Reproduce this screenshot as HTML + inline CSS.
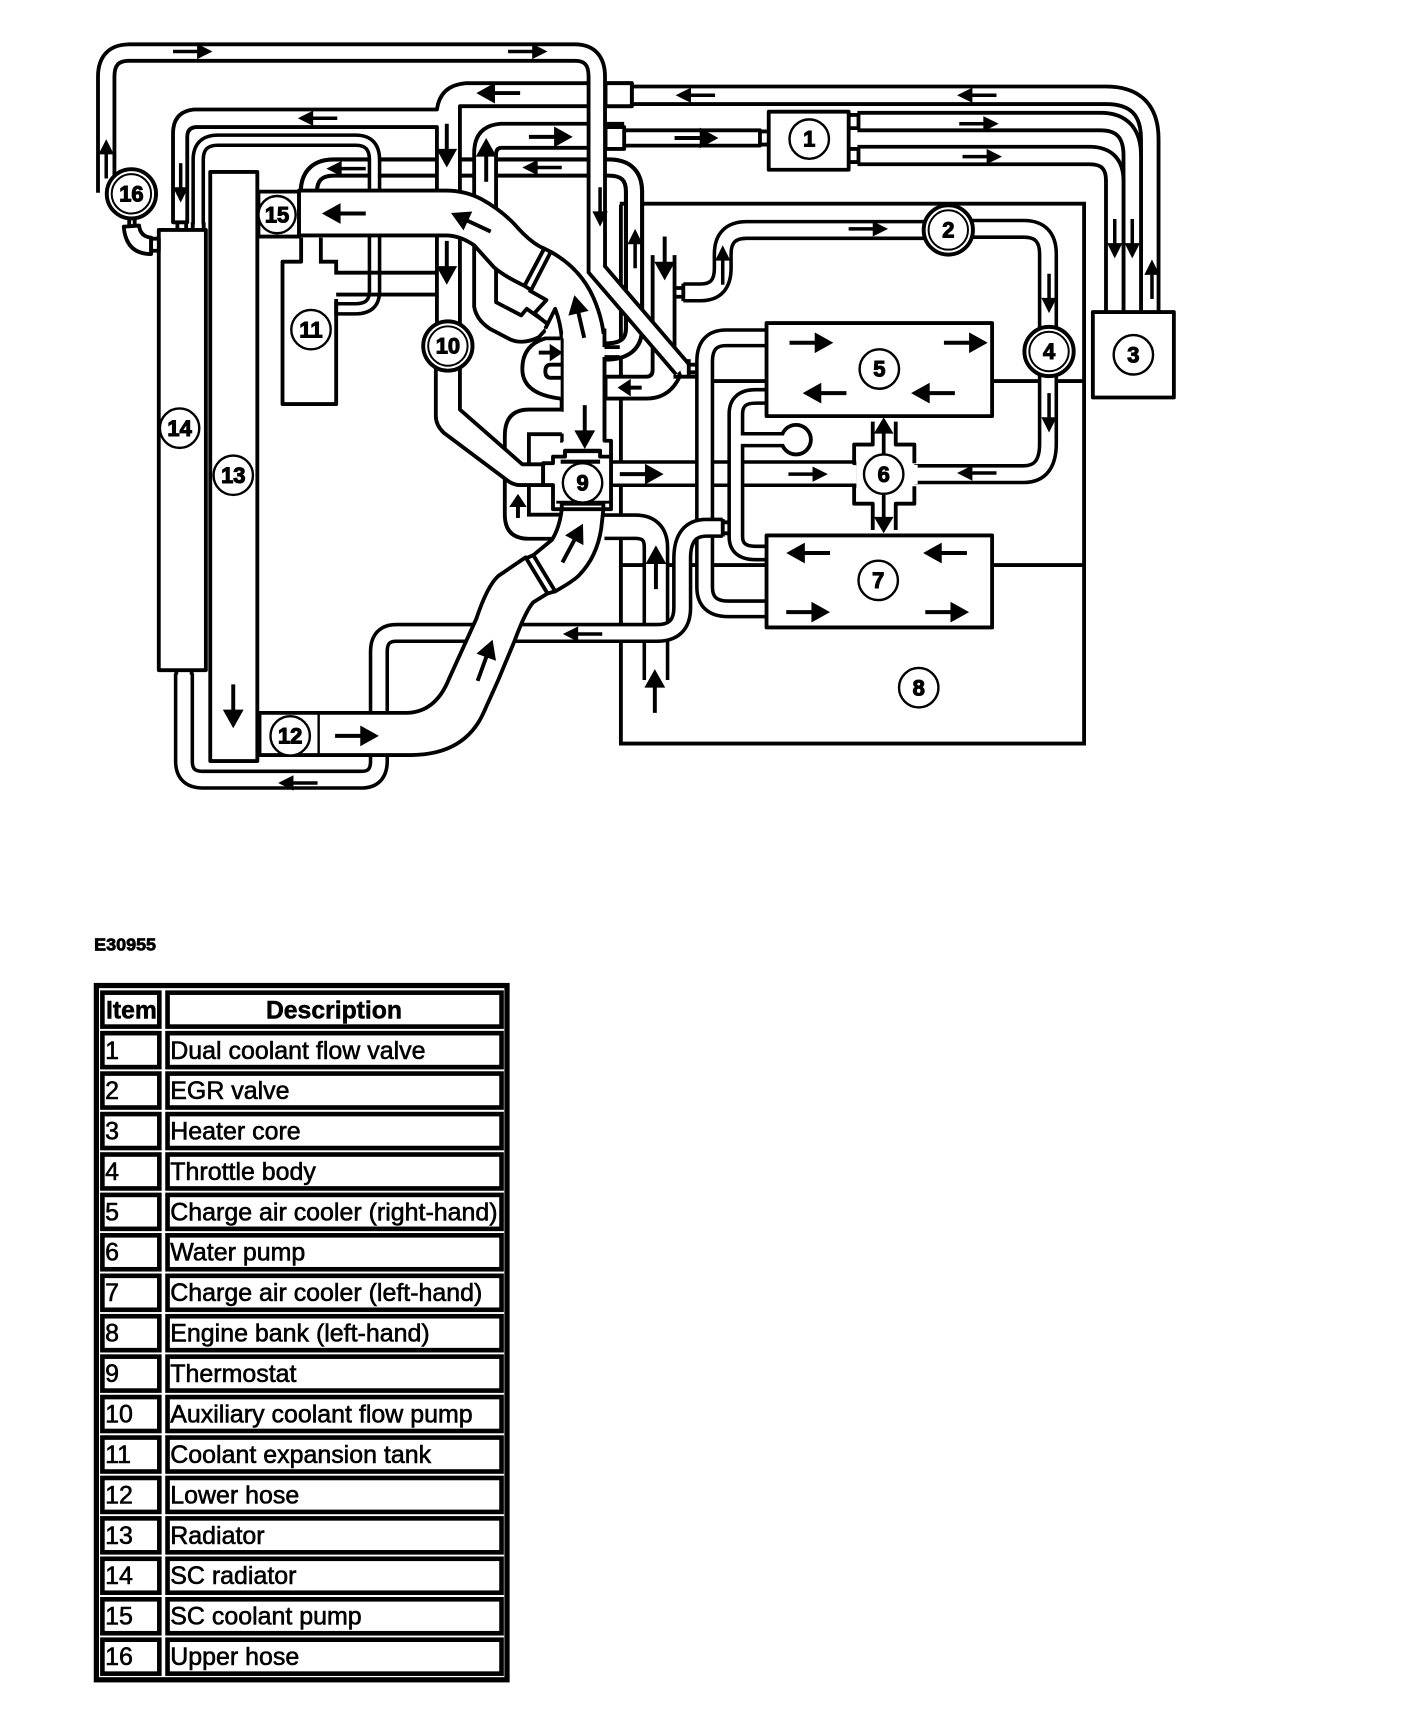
<!DOCTYPE html>
<html><head><meta charset="utf-8"><style>
html,body{margin:0;padding:0;background:#fff}
svg{display:block}
.l{fill:none;stroke:#000;stroke-width:3.5}
.f{fill:#fff;stroke:#000;stroke-width:3.5;stroke-linejoin:round}
.k{fill:none;stroke:#000}
.w{fill:none;stroke:#fff}
.c{fill:#fff;stroke:#000;stroke-width:2.2}
.n{font:bold 20px "Liberation Sans",sans-serif;text-anchor:middle;stroke:#000;stroke-width:1}
.t{font:22.8px "Liberation Sans",sans-serif;stroke:#000;stroke-width:.55}
.h{font:bold 22.6px "Liberation Sans",sans-serif;text-anchor:middle;stroke:#000;stroke-width:.5}
.r{fill:#fff;stroke:#000;stroke-width:4.2}
</style></head><body>
<svg xmlns="http://www.w3.org/2000/svg" width="1408" height="1718" viewBox="0 0 1285.8 1568.9">
<defs>
<g id="a"><path d="M-20,0H6" stroke="#000" stroke-width="3.6"/><polygon points="3,-9.5 3,9.5 20,0"/></g>
<g id="b"><path d="M-18,0H6" stroke="#000" stroke-width="3.2"/><polygon points="4,-7 4,7 18,0"/></g>
<g id="s"><path d="M-11,0H2" stroke="#000" stroke-width="3.6"/><polygon points="-1,-8 -1,8 11,0"/></g>
</defs>

<!-- engine bank -->
<path class="l" d="M566,186H990V679H567V187"/>
<path class="l" d="M906,348H990M651,348H700M906,516H990M566,516H700"/>

<!-- heater pipes -->
<path class="k" stroke-width="19.500" d="M577,87H1010Q1050,87 1050,127V287"/><path class="w" stroke-width="12.500" d="M577,87H1010Q1050,87 1050,127V287"/>
<path class="k" stroke-width="19.500" d="M783,111H1005Q1034,111 1034,142V287"/><path class="w" stroke-width="12.500" d="M783,111H1005Q1034,111 1034,142V287"/>
<path class="k" stroke-width="19.500" d="M783,142H995Q1018,142 1018,165V287"/><path class="w" stroke-width="12.500" d="M783,142H995Q1018,142 1018,165V287"/>
<rect class="f" x="775" y="105" width="9" height="12"/><rect class="f" x="775" y="136" width="9" height="12"/>
<rect class="f" x="693" y="120" width="10" height="12"/>
<path class="f" d="M570,119H694V133H570"/>

<!-- P7 mid horizontal -->
<path class="k" stroke-width="18.500" d="M282,176Q282,153 305,153H556Q579,153 579,175V300Q579,321 553,321"/>
<path class="w" stroke-width="11" d="M282,176Q282,153 305,153H556Q579,153 579,175V300Q579,321 553,321"/>

<!-- stub pipe with left arrow -->
<path class="f" d="M596,233V338Q596,344 590,344H553V364H590Q612,364 621,343L616,330V233"/>
<path class="f" d="M628,333H636M628,340H636M615,344H636"/>

<!-- EGR and throttle pipes -->
<path class="k" stroke-width="18.500" d="M624,267H640Q660,267 660,245V232Q660,210 682,210H850"/><path class="w" stroke-width="12" d="M624,267H640Q660,267 660,245V232Q660,210 682,210H850"/>
<path class="l" d="M616,263H625M616,271H625M624,259V275"/>
<path class="k" stroke-width="18.500" d="M880,209H935Q957,209 957,232V330"/><path class="w" stroke-width="12" d="M880,209H935Q957,209 957,232V330"/>
<path class="k" stroke-width="18.500" d="M957,330V405Q957,433 935,433H835"/><path class="w" stroke-width="12" d="M957,330V405Q957,433 935,433H833"/>

<!-- pipe thermostat to pump -->
<path class="k" stroke-width="24.500" d="M558,432.500H782"/><path class="w" stroke-width="18" d="M558,432.500H782"/>

<!-- P1 P2 -->
<path class="k" stroke-width="17.500" d="M699,308.500H663Q643.500,308.500 643.500,330V536Q643.500,556 665,556H699"/><path class="w" stroke-width="11" d="M699,308.500H663Q643.500,308.500 643.500,330V536Q643.500,556 665,556H699"/>
<path class="k" stroke-width="15.500" d="M699,362H690Q672,362 672,378V490Q672,505 690,505H699"/><path class="w" stroke-width="9" d="M699,362H690Q672,362 672,378V490Q672,505 690,505H699"/>
<circle class="f" cx="727" cy="401.500" r="13.500"/>
<path class="k" stroke-width="14" d="M678,401.500H716"/><path class="w" stroke-width="7.600" d="M672,401.500H722"/>

<!-- P4 -->
<path class="k" stroke-width="24.500" d="M552,481H580Q599,481 599,500V621"/><path class="w" stroke-width="18" d="M552,481H580Q599,481 599,500V622"/>

<!-- P3 -->
<path class="k" stroke-width="18.500" d="M660,482H645Q623,482 623,510V555Q623,578 600,578H362Q346,578 346,595V695Q346,712 330,712H185Q168,712 168,695V615"/>
<path class="w" stroke-width="12" d="M660,482H645Q623,482 623,510V555Q623,578 600,578H362Q346,578 346,595V695Q346,712 330,712H185Q168,712 168,695V615"/>
<path class="l" d="M660,474V490M660,477H666M660,487H666"/>

<!-- Pump -->
<path class="f" d="M782,423H780V406H797V385M818,385V406H835V423M835,444V460H818V484M797,484V460H780V444H782"/>
<rect x="782" y="424.500" width="56" height="17.500" fill="#fff"/>

<!-- B pipe -->
<path class="f" d="M420,300V97H577V76H425Q402,78 399,100H177Q158,102 158,122V203H171V125Q171,116 180,116H399V300"/>

<!-- SC thin pipe -->
<path class="k" stroke-width="12.500" d="M181,205V146Q181,128 199,128H325Q342,128 342,146V266Q342,282 325,282H306"/>
<path class="w" stroke-width="6" d="M181,205V146Q181,128 199,128H325Q342,128 342,146V266Q342,282 325,282H306"/>

<!-- tank 11 and lines -->
<path class="f" d="M275,217V239H258V369H307V275"/>
<path class="l" d="M293,217V239H307V249H399M307,269H399"/>
<path class="l" d="M307,273V288"/>

<!-- radiators -->
<rect class="f" x="192" y="157" width="43" height="538"/>
<rect class="f" x="145" y="210" width="43" height="402"/>
<path class="l" d="M162,203V210M170,203V210M176,203V210M186,203V210M161,612V616M175,612V616"/>

<!-- elbow near 16 -->
<path class="f" d="M113,207Q115,232 138,232V217Q128,216 127,206Z"/>
<rect class="f" x="138" y="218" width="7" height="11"/>
<path class="l" d="M118,198V207M123,198V207"/>

<!-- P5 -->
<path class="f" d="M570,113H457Q433,115 433,140V280Q435,292 447,300L466,310Q478,315 492,308L502,297L481,282L476,288L453,276V141Q453,135 458,135H570"/>
<rect class="f" x="553" y="116" width="17" height="20"/>
<rect class="f" x="553" y="76" width="24" height="21"/>
<path class="f" d="M483,265L499,274L488,286L500,296"/>

<!-- housing top -->
<path class="f" d="M503,230Q530,245 542,272Q552,295 552,317M552,326V402.500H558V417.600H548V411.600H516V417.600H505.500V402.500H513V396M513,376V309Q512,295 507,282L498,300"/>
<path d="M514,305L552,305L552,403H514Z" fill="#fff"/>
<path class="l" d="M552,300V317M552,326V403M513,309V376M513,396V403"/>
<path class="l" d="M552,317H566M552,326H566"/>

<!-- C loop -->
<path class="f" d="M512,309H498Q477,315 477,337Q477,360 512,364"/>
<path class="l" d="M513,333H503Q498,333 498,339Q498,345 503,345H513"/>

<!-- Bypass loop -->
<path class="f" d="M513,374H483Q461,374 461,398V470Q461,492 483,492H507"/>
<path class="l" d="M513,396.500H483V423M483,443V470H513"/>

<!-- pipe 10 diag -->
<path class="f" d="M398,330V380Q398,388 405,395L465,440Q470,443 475,443H496V424H477L420,374V330"/>

<!-- P4 housing lower -->
<path class="f" d="M513,465Q511,482 504,493L487,507L507,540Q525,530 530,524Q545,508 549,483L551,465Z"/>
<path class="f" d="M480,510L487,507L507,540L500,542Z"/>

<!-- thermostat -->
<path class="f" d="M505,417V423H496V443H505V465H513V460H551V465H558V443H558V422H558V417H548V412H516V417Z"/>
<rect x="560" y="424.500" width="10" height="16" fill="#fff"/>
<path d="M512,421.600H548" stroke="#000" stroke-width="3.800"/>
<path d="M508,458.600H558" stroke="#000" stroke-width="2.600"/>

<!-- lower hose -->
<path class="f" d="M237,651H372Q398,650 410,620L435,565Q445,535 455,526L480,509L500,542L487,550Q480,558 470,585L455,621L442,650Q425,689 376,689.500H237Z"/>
<path class="l" d="M291,650V690" style="stroke-width:2.200"/>

<!-- A pipe -->
<path class="k" stroke-width="18.500" d="M97,176V70Q97,48 118,48H525Q545,48 545,70V246L623,337"/>
<path class="w" stroke-width="11.500" d="M97,177V70Q97,48 118,48H525Q545,48 545,70V246L623,337"/>
<path class="l" d="M629,328V344"/>

<!-- upper hose -->
<path class="f" d="M273,174H407Q425,174 440,182Q458,192 471,206Q485,222 497,227L479,261Q460,252 451,244L433,224Q420,215 407,215H273Z"/>
<path class="f" d="M497,227L503,230L485,265L479,261Z"/>
<rect class="f" x="236" y="175" width="37" height="41"/>

<!-- boxes -->
<rect class="f" x="702" y="102" width="73" height="53"/>
<rect class="f" x="998" y="285" width="74" height="78"/>
<rect class="f" x="700" y="295" width="206" height="85"/>
<rect class="f" x="700" y="489" width="206" height="84"/>

<!-- pump shafts -->
<path d="M807,415V390M807,452V475" stroke="#000" stroke-width="3.400"/>

<!-- arrows -->
<g>
<use href="#b" transform="translate(176,47)"/>
<use href="#b" transform="translate(482,47)"/>
<use href="#b" transform="translate(97,145) rotate(-90)"/>
<use href="#b" transform="translate(165,167) rotate(90)"/>
<use href="#b" transform="translate(290,108) rotate(180)"/>
<use href="#a" transform="translate(455,85) rotate(180)"/>
<use href="#a" transform="translate(503,125)"/>
<use href="#a" transform="translate(636,126)"/>
<use href="#b" transform="translate(316,154) rotate(180)"/>
<use href="#b" transform="translate(495,153) rotate(180)"/>
<use href="#a" transform="translate(408,133) rotate(90)"/>
<use href="#a" transform="translate(408,240) rotate(90)"/>
<use href="#a" transform="translate(444,146) rotate(-90)"/>
<use href="#a" transform="translate(314,195) rotate(180)"/>
<use href="#a" transform="translate(430,203) rotate(205)"/>
<use href="#a" transform="translate(529,289) rotate(-103)"/>
<use href="#b" transform="translate(548,189) rotate(90)"/>
<use href="#b" transform="translate(580,227) rotate(-90)"/>
<use href="#a" transform="translate(607,236) rotate(90)"/>
<use href="#s" transform="translate(503,322)"/>
<use href="#s" transform="translate(575,354) rotate(180)"/>
<use href="#a" transform="translate(534,390) rotate(90)"/>
<use href="#a" transform="translate(586,433)"/>
<use href="#b" transform="translate(738,433)"/>
<use href="#s" transform="translate(473,462) rotate(-90)"/>
<use href="#a" transform="translate(523,496) rotate(-62)"/>
<use href="#a" transform="translate(443,603) rotate(-70)"/>
<use href="#a" transform="translate(599,518) rotate(-90)"/>
<use href="#a" transform="translate(598,631) rotate(-90)"/>
<use href="#b" transform="translate(532,579) rotate(180)"/>
<use href="#a" transform="translate(326,672)"/>
<use href="#a" transform="translate(213,645) rotate(90)"/>
<use href="#b" transform="translate(272,715) rotate(180)"/>
<use href="#a" transform="translate(738,505) rotate(180)"/>
<use href="#a" transform="translate(863,505) rotate(180)"/>
<use href="#a" transform="translate(738,559)"/>
<use href="#a" transform="translate(865,559)"/>
<use href="#a" transform="translate(741,313)"/>
<use href="#a" transform="translate(882,313)"/>
<use href="#a" transform="translate(753,359) rotate(180)"/>
<use href="#a" transform="translate(852,359) rotate(180)"/>
<use href="#b" transform="translate(793,209)"/>
<use href="#b" transform="translate(660,242) rotate(-90)"/>
<use href="#b" transform="translate(958,268) rotate(90)"/>
<use href="#b" transform="translate(958,377) rotate(90)"/>
<use href="#b" transform="translate(892,432) rotate(180)"/>
<use href="#b" transform="translate(635,87) rotate(180)"/>
<use href="#b" transform="translate(892,87) rotate(180)"/>
<use href="#b" transform="translate(894,113)"/>
<use href="#b" transform="translate(897,143)"/>
<use href="#b" transform="translate(1018,218) rotate(90)"/>
<use href="#b" transform="translate(1034,218) rotate(90)"/>
<use href="#b" transform="translate(1052,255) rotate(-90)"/>
<polygon points="807,381 798,396 816,396"/>
<polygon points="807,487 798,472 816,472"/>
</g>

<!-- pump rings -->
<g fill="#fff" stroke="#000">
<circle cx="120" cy="177" r="22.500" stroke-width="3.600"/><circle cx="120" cy="177" r="18" stroke-width="1.800"/>
<circle cx="409" cy="316" r="22.500" stroke-width="3.600"/><circle cx="409" cy="316" r="18" stroke-width="1.800"/>
<circle cx="866" cy="210" r="22.500" stroke-width="3.600"/><circle cx="866" cy="210" r="18" stroke-width="1.800"/>
<circle cx="958" cy="321" r="22.500" stroke-width="3.600"/><circle cx="958" cy="321" r="18" stroke-width="1.800"/>
</g>
<circle class="c" cx="739" cy="127" r="18"/>
<circle class="c" cx="1035" cy="324" r="18"/>
<circle class="c" cx="803" cy="337" r="18"/>
<circle class="c" cx="807" cy="433" r="18"/>
<circle class="c" cx="802" cy="530" r="18"/>
<circle class="c" cx="839" cy="628" r="18"/>
<circle class="c" cx="532" cy="441" r="18"/>
<circle class="c" cx="284" cy="301" r="18"/>
<circle class="c" cx="265" cy="672" r="18"/>
<circle class="c" cx="213" cy="434" r="18"/>
<circle class="c" cx="164" cy="391" r="18"/>
<circle class="c" cx="253" cy="196" r="17"/>

<g class="n">
<text x="739" y="134">1</text><text x="866" y="217">2</text><text x="1035" y="331">3</text><text x="958" y="328">4</text>
<text x="803" y="344">5</text><text x="807" y="440">6</text><text x="802" y="537">7</text><text x="839" y="635">8</text>
<text x="532" y="448">9</text><text x="409" y="323">10</text><text x="284" y="308">11</text><text x="265" y="679">12</text>
<text x="213" y="441">13</text><text x="164" y="398">14</text><text x="253" y="203">15</text><text x="120" y="184">16</text>
</g>

<text x="86" y="868" style="font:bold 16.400px 'Liberation Sans',sans-serif;stroke:#000;stroke-width:.7">E30955</text>

<!-- table -->
<rect x="88" y="900" width="375" height="634" fill="#fff" stroke="#000" stroke-width="4.800"/>
<g>
<rect class="r" x="93.500" y="906.500" width="52" height="31"/><rect class="r" x="153" y="906.500" width="305" height="31"/>
<rect class="r" x="93.500" y="943.500" width="52" height="31"/><rect class="r" x="153" y="943.500" width="305" height="31"/>
<rect class="r" x="93.500" y="980.400" width="52" height="31"/><rect class="r" x="153" y="980.400" width="305" height="31"/>
<rect class="r" x="93.500" y="1017.400" width="52" height="31"/><rect class="r" x="153" y="1017.400" width="305" height="31"/>
<rect class="r" x="93.500" y="1054.300" width="52" height="31"/><rect class="r" x="153" y="1054.300" width="305" height="31"/>
<rect class="r" x="93.500" y="1091.200" width="52" height="31"/><rect class="r" x="153" y="1091.200" width="305" height="31"/>
<rect class="r" x="93.500" y="1128.100" width="52" height="31"/><rect class="r" x="153" y="1128.100" width="305" height="31"/>
<rect class="r" x="93.500" y="1165.100" width="52" height="31"/><rect class="r" x="153" y="1165.100" width="305" height="31"/>
<rect class="r" x="93.500" y="1202" width="52" height="31"/><rect class="r" x="153" y="1202" width="305" height="31"/>
<rect class="r" x="93.500" y="1238.900" width="52" height="31"/><rect class="r" x="153" y="1238.900" width="305" height="31"/>
<rect class="r" x="93.500" y="1275.800" width="52" height="31"/><rect class="r" x="153" y="1275.800" width="305" height="31"/>
<rect class="r" x="93.500" y="1312.800" width="52" height="31"/><rect class="r" x="153" y="1312.800" width="305" height="31"/>
<rect class="r" x="93.500" y="1349.700" width="52" height="31"/><rect class="r" x="153" y="1349.700" width="305" height="31"/>
<rect class="r" x="93.500" y="1386.600" width="52" height="31"/><rect class="r" x="153" y="1386.600" width="305" height="31"/>
<rect class="r" x="93.500" y="1423.500" width="52" height="31"/><rect class="r" x="153" y="1423.500" width="305" height="31"/>
<rect class="r" x="93.500" y="1460.500" width="52" height="31"/><rect class="r" x="153" y="1460.500" width="305" height="31"/>
<rect class="r" x="93.500" y="1497.400" width="52" height="31"/><rect class="r" x="153" y="1497.400" width="305" height="31"/>
</g>
<text class="h" x="120" y="930">Item</text><text class="h" x="305" y="930">Description</text>
<g class="t">
<text x="96" y="967">1</text><text x="155.500" y="967">Dual coolant flow valve</text>
<text x="96" y="1003.500">2</text><text x="155.500" y="1003.500">EGR valve</text>
<text x="96" y="1040.500">3</text><text x="155.500" y="1040.500">Heater core</text>
<text x="96" y="1077.500">4</text><text x="155.500" y="1077.500">Throttle body</text>
<text x="96" y="1114.500">5</text><text x="155.500" y="1114.500">Charge air cooler (right-hand)</text>
<text x="96" y="1151">6</text><text x="155.500" y="1151">Water pump</text>
<text x="96" y="1188">7</text><text x="155.500" y="1188">Charge air cooler (left-hand)</text>
<text x="96" y="1225">8</text><text x="155.500" y="1225">Engine bank (left-hand)</text>
<text x="96" y="1262">9</text><text x="155.500" y="1262">Thermostat</text>
<text x="96" y="1299">10</text><text x="155.500" y="1299">Auxiliary coolant flow pump</text>
<text x="96" y="1336">11</text><text x="155.500" y="1336">Coolant expansion tank</text>
<text x="96" y="1373">12</text><text x="155.500" y="1373">Lower hose</text>
<text x="96" y="1410">13</text><text x="155.500" y="1410">Radiator</text>
<text x="96" y="1446.500">14</text><text x="155.500" y="1446.500">SC radiator</text>
<text x="96" y="1483.500">15</text><text x="155.500" y="1483.500">SC coolant pump</text>
<text x="96" y="1520.500">16</text><text x="155.500" y="1520.500">Upper hose</text>
</g>
</svg>
</body></html>
